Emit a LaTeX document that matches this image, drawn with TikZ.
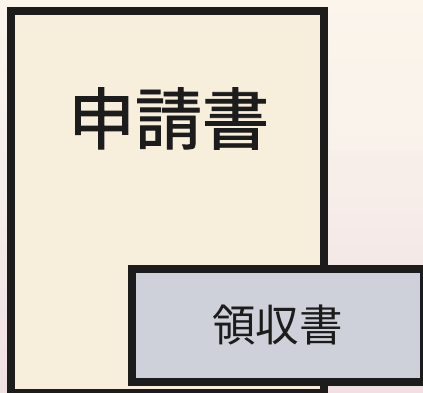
\documentclass[tikz,border=0pt]{standalone}
\usepackage{fontspec}
\newfontfamily\jpfont{Noto Sans CJK JP}
\newfontfamily\jpboldish[FakeBold=1.4]{Noto Sans CJK JP}
\definecolor{bgtop}{RGB}{251,245,236}
\definecolor{bgbot}{RGB}{240,224,228}
\definecolor{paper}{RGB}{247,238,220}
\definecolor{slip}{RGB}{206,209,217}
\definecolor{ink}{RGB}{28,28,28}
\tikzset{
  docbox/.style={draw=ink, line width=8pt, line join=miter},
}
\begin{document}
\begin{tikzpicture}[x=1pt,y=-1pt]
\useasboundingbox (0,0) rectangle (423,392);
\shade[top color=bgtop, bottom color=bgbot, middle color=bgtop!60!bgbot, shading angle=0] (0,0) rectangle (423,392);
\fill[bgtop, opacity=0.6] (330,0) rectangle (423,150);
\draw[docbox, fill=paper] (10.5,11) rectangle (323.5,392.5);
\node[font=\jpboldish\fontsize{67}{67}\selectfont, text=ink, inner sep=0] (app) at (168.5,118.5) {申請書};
\draw[docbox, fill=slip] (131.5,268.5) rectangle (424,381.5);
\node[font=\jpfont\fontsize{43.5}{43.5}\selectfont, text=ink, inner sep=0] (rec) at (277.5,325) {領収書};
\end{tikzpicture}
\end{document}
